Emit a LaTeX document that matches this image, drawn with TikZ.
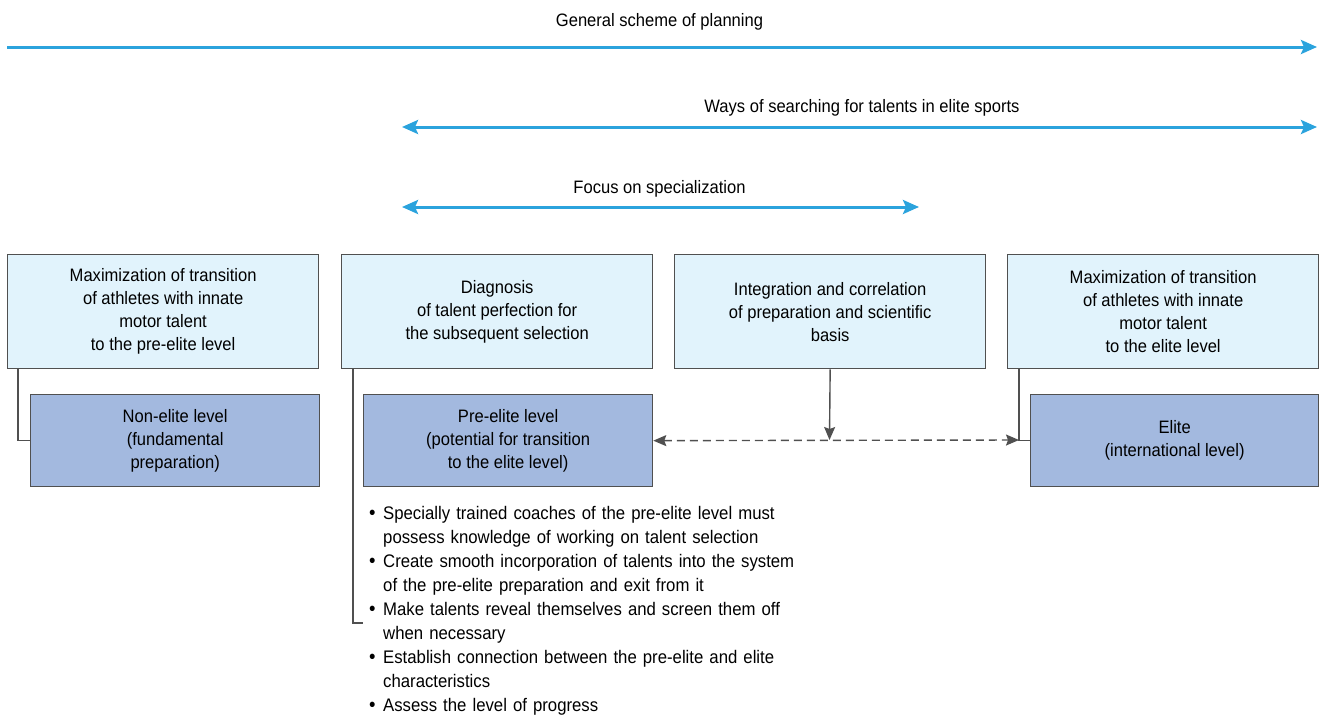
\documentclass[tikz,border=0pt]{standalone}
\usepackage{fontspec}
\setmainfont{Liberation Sans}[FakeStretch=0.92]
\usetikzlibrary{arrows.meta}
\definecolor{flowblue}{HTML}{2BA3DD}
\definecolor{paleblue}{HTML}{E1F3FC}
\definecolor{levelblue}{HTML}{A3B9DF}
\definecolor{frame}{HTML}{505050}
\newcommand\bulletitem{\par\noindent\hangindent=14pt\hangafter=1\makebox[14pt][l]{\fontsize{20}{20}\selectfont •}}

\begin{document}
\begin{tikzpicture}[x=1pt,y=-1pt,
  font=\fontsize{18}{23}\selectfont,
  span/.style={draw=flowblue, line width=3pt},
  bluetip/.tip={Stealth[length=16pt,width=14pt,inset=3pt]},
  darktip/.tip={Stealth[length=13pt,width=11pt,inset=2pt]},
  aimbox/.style={draw=frame, line width=1.3pt, fill=paleblue, align=center,
    anchor=north west, minimum width=311pt, minimum height=114pt, inner sep=0pt},
  levelbox/.style={draw=frame, line width=1.3pt, fill=levelblue, align=center,
    anchor=north west, minimum height=92pt, inner sep=0pt},
  link/.style={draw=frame, line width=1.4pt}]
\useasboundingbox (0,0) rectangle (1322,715);

% horizontal planning spans
\node (t1) at (659.5,22) {General scheme of planning};
\coordinate (g1) at (7,47);
\coordinate (g2) at (1317,47);
\draw[span, -bluetip] (g1) -- (g2);

\node (t2) at (862,108) {Ways of searching for talents in elite sports};
\coordinate (w1) at (402,127);
\coordinate (w2) at (1317,127);
\draw[span, bluetip-bluetip] (w1) -- (w2);

\node (t3) at (659.5,189) {Focus on specialization};
\coordinate (f1) at (402,207);
\coordinate (f2) at (919,207);
\draw[span, bluetip-bluetip] (f1) -- (f2);

% upper row: aims
\node[aimbox] (b1) at (7,254) {Maximization of transition\\of athletes with innate\\motor talent\\to the pre-elite level};
\node[aimbox] (b2) at (341,254) {Diagnosis\\of talent perfection for\\the subsequent selection};
\node[aimbox] (b3) at (674,254) {Integration and correlation\\of preparation and scientific\\basis};
\node[aimbox] (b4) at (1007,254) {Maximization of transition\\of athletes with innate\\motor talent\\to the elite level};

% lower row: levels
\node[levelbox, minimum width=289pt] (n1) at (30,394) {Non-elite level\\(fundamental\\preparation)};
\node[levelbox, minimum width=289pt] (n2) at (363,394) {Pre-elite level\\(potential for transition\\to the elite level)};
\node[levelbox, minimum width=288pt] (n4) at (1030,394) {Elite\\(international level)};

% connectors
\coordinate (c2) at (363,623);
\coordinate (m3) at (829.5,440);
\coordinate (j4) at (1019,440);
\draw[link] (b1.south west) ++(11,0) |- (n1.west);
\draw[link] (b2.south west) ++(12,0) |- (c2);
\draw[link] (b4.south west) ++(12,0) |- (n4.west);
\draw[link, -darktip] (b3.south) -- (m3);
\draw[link, dash pattern=on 8pt off 5pt, darktip-darktip] (n2.east) -- (j4);

% tasks of the pre-elite level
\node[anchor=north west, inner sep=0pt, text width=440pt,
  font=\fontsize{18.2}{24}\selectfont] (list) at (369,495) {\raggedright
\bulletitem Specially trained coaches of the pre-elite level must\newline possess knowledge of working on talent selection
\bulletitem Create smooth incorporation of talents into the system\newline of the pre-elite preparation and exit from it
\bulletitem Make talents reveal themselves and screen them off\newline when necessary
\bulletitem Establish connection between the pre-elite and elite\newline characteristics
\bulletitem Assess the level of progress\par};
\end{tikzpicture}
\end{document}
